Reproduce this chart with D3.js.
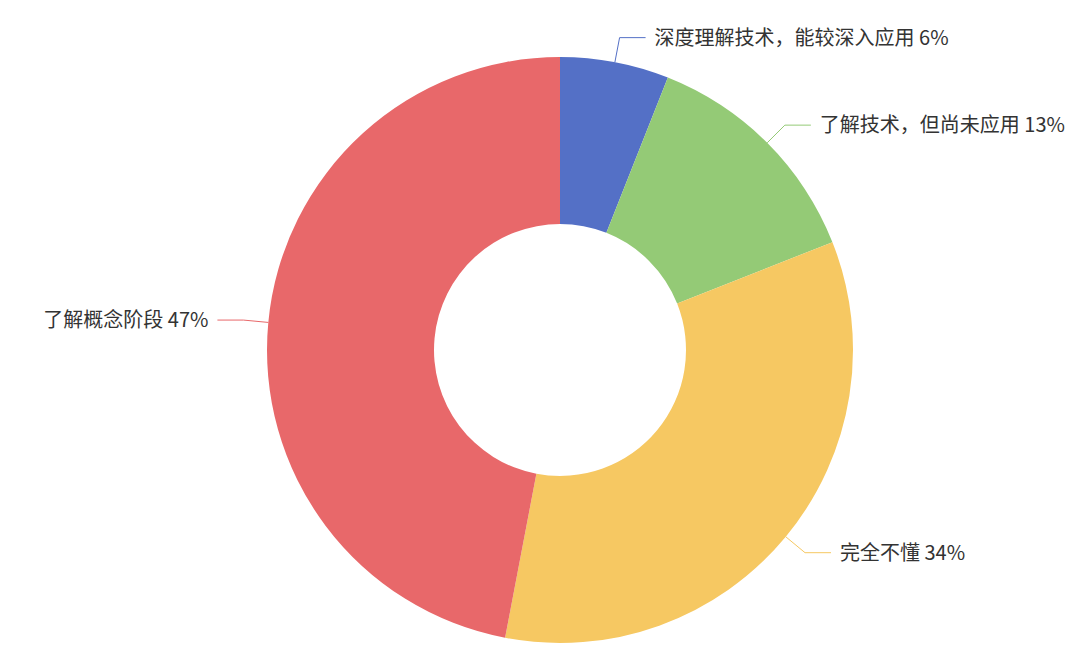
<!DOCTYPE html>
<html>
<head>
<meta charset="utf-8">
<script src="https://cdn.jsdelivr.net/npm/d3@7.9.0/dist/d3.min.js"></script>
<style>
  html, body { margin: 0; padding: 0; background: #fff; }
  svg { display: block; }
</style>
</head>
<body>
<div id="chart"></div>
<script>
// Data
const categories = ["深度理解技术，能较深入应用", "了解技术，但尚未应用", "完全不懂", "了解概念阶段"];
const values = [6, 13, 34, 47];
const colors = ["#5470c6", "#94ca76", "#f6c862", "#e8686a"];

const width = 1080, height = 659;
const cx = 560, cy = 350;
const outerR = 293, innerR = 126;
const len1 = 25, len2 = 26;

const svg = d3.select("#chart")
  .append("svg")
    .attr("width", width)
    .attr("height", height)
    .style("font-family", "'Noto Sans CJK SC', 'Noto Sans', sans-serif");

const g = svg.append("g")
  .attr("transform", `translate(${cx},${cy})`);

const data = categories.map((name, i) => ({ name, value: values[i], color: colors[i] }));

const pie = d3.pie()
  .sort(null)
  .value(d => d.value);

const arcs = pie(data);

const arc = d3.arc()
  .innerRadius(innerR)
  .outerRadius(outerR);

g.selectAll("path.slice")
  .data(arcs)
  .join("path")
    .attr("class", "slice")
    .attr("d", arc)
    .attr("fill", d => d.data.color);

// label lines: out from the rim, then horizontal
function points(d) {
  const a = (d.startAngle + d.endAngle) / 2;
  const sx = Math.sin(a), sy = -Math.cos(a);
  const p0 = [sx * outerR, sy * outerR];
  const p1 = [sx * (outerR + len1), sy * (outerR + len1)];
  const dir = sx >= 0 ? 1 : -1;
  const p2 = [p1[0] + dir * len2, p1[1]];
  return { p0, p1, p2, dir };
}

g.selectAll("polyline.leader")
  .data(arcs)
  .join("polyline")
    .attr("class", "leader")
    .attr("points", d => {
      const p = points(d);
      return [p.p0, p.p1, p.p2].map(q => q.join(",")).join(" ");
    })
    .attr("fill", "none")
    .attr("stroke", d => d.data.color)
    .attr("stroke-width", 1);

g.selectAll("text.label")
  .data(arcs)
  .join("text")
    .attr("class", "label")
    .attr("x", d => { const p = points(d); return p.p2[0] + p.dir * 9; })
    .attr("y", d => points(d).p2[1])
    .attr("dy", "0.35em")
    .attr("text-anchor", d => points(d).dir > 0 ? "start" : "end")
    .attr("fill", "#333")
    .style("font-size", "20px")
    .text(d => `${d.data.name} ${d.data.value}%`);
</script>
</body>
</html>
